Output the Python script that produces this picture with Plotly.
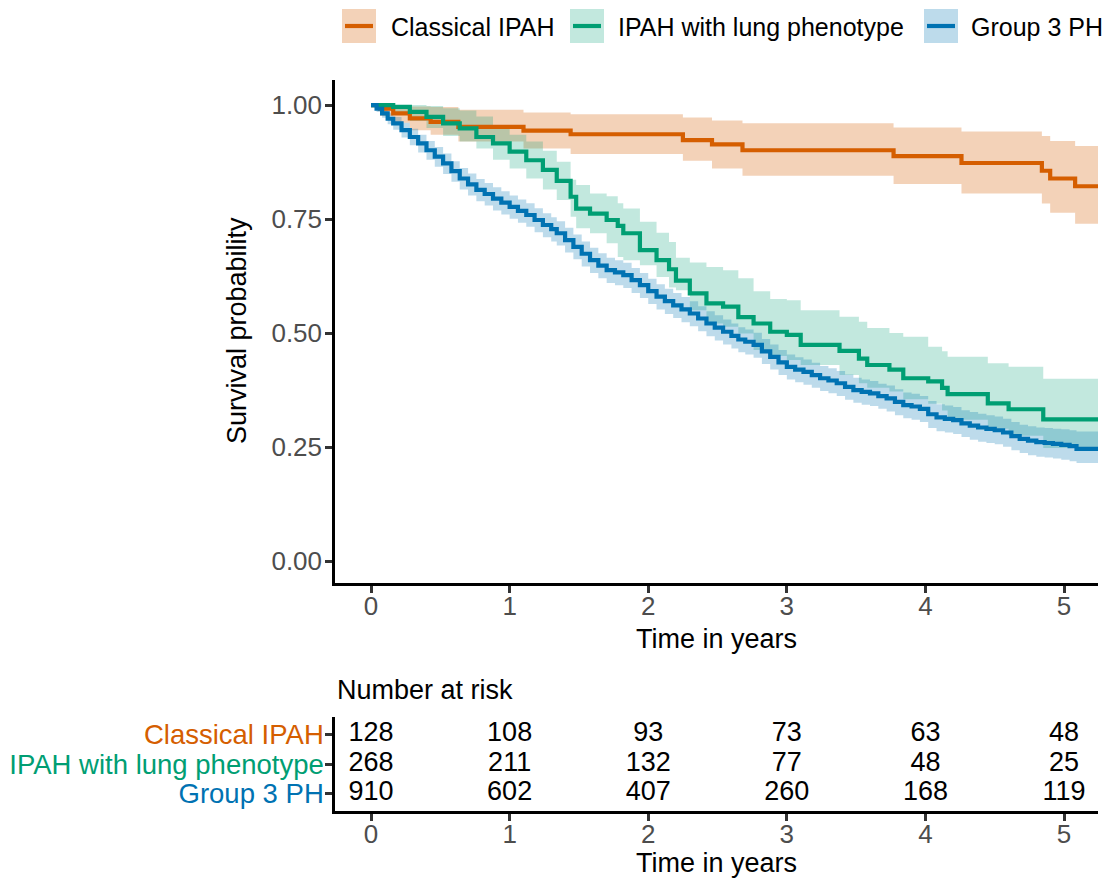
import plotly.graph_objects as go

W, H = 1112, 882

# ---------------- data ----------------
groups = ["Classical IPAH", "IPAH with lung phenotype", "Group 3 PH"]
colors = ["#D55E00", "#009E73", "#0072B2"]
band_colors = ["rgba(213,94,0,0.28)", "rgba(0,158,115,0.24)", "rgba(0,114,178,0.26)"]

# Classical IPAH
t_classical = [0, 0.065, 0.16, 0.28, 0.43, 0.63, 1.10, 1.44, 2.25, 2.46, 2.68, 3.77, 4.26, 4.84, 4.90, 5.08, 5.245]
s_classical = [1.0, 0.992, 0.982, 0.971, 0.963, 0.952, 0.944, 0.936, 0.923, 0.914, 0.901, 0.888, 0.873, 0.856, 0.839, 0.822, 0.822]
up_classical = [1.0, 1.0, 0.999, 0.997, 0.996, 0.990, 0.984, 0.980, 0.973, 0.966, 0.960, 0.951, 0.942, 0.932, 0.921, 0.910, 0.910]
lo_classical = [1.0, 0.976, 0.961, 0.945, 0.935, 0.920, 0.905, 0.893, 0.878, 0.861, 0.845, 0.827, 0.806, 0.784, 0.764, 0.740, 0.740]

# IPAH with lung phenotype
t_lung = [0, 0.16, 0.28, 0.40, 0.52, 0.64, 0.76, 0.88, 1.00, 1.12, 1.24, 1.34, 1.44, 1.48, 1.58, 1.70,
          1.78, 1.82, 1.94, 2.06, 2.15, 2.20, 2.30, 2.42, 2.54, 2.65, 2.76, 2.88, 3.00, 3.10, 3.38, 3.52,
          3.58, 3.74, 3.84, 4.02, 4.12, 4.16, 4.45, 4.60, 4.85, 5.245]
s_lung = [1.0, 0.996, 0.985, 0.974, 0.960, 0.949, 0.930, 0.916, 0.898, 0.879, 0.858, 0.834, 0.799, 0.773, 0.762, 0.748,
          0.735, 0.719, 0.682, 0.660, 0.640, 0.615, 0.587, 0.565, 0.558, 0.535, 0.521, 0.503, 0.496, 0.474, 0.461, 0.444,
          0.430, 0.420, 0.401, 0.394, 0.380, 0.366, 0.346, 0.333, 0.311, 0.311]
up_lung = [1.0, 1.0, 1.0, 0.998, 0.993, 0.988, 0.975, 0.955, 0.935, 0.920, 0.900, 0.876, 0.836, 0.825, 0.806, 0.800,
           0.785, 0.773, 0.744, 0.720, 0.700, 0.665, 0.655, 0.645, 0.638, 0.620, 0.592, 0.575, 0.572, 0.550, 0.536, 0.525,
           0.511, 0.500, 0.492, 0.470, 0.460, 0.448, 0.434, 0.426, 0.400, 0.400]
lo_lung = [1.0, 0.985, 0.965, 0.950, 0.932, 0.920, 0.905, 0.880, 0.861, 0.839, 0.815, 0.792, 0.755, 0.730, 0.719, 0.697,
           0.667, 0.660, 0.649, 0.623, 0.600, 0.594, 0.550, 0.521, 0.514, 0.499, 0.463, 0.450, 0.441, 0.430, 0.408, 0.390,
           0.380, 0.372, 0.355, 0.345, 0.330, 0.310, 0.290, 0.275, 0.248, 0.248]

# Group 3 PH
t_g3 = [0.00, 0.04, 0.08, 0.12, 0.16, 0.22, 0.28, 0.34, 0.40, 0.46, 0.52, 0.58, 0.64, 0.70, 0.76, 0.82, 0.88, 0.94,
        1.00, 1.06, 1.12, 1.18, 1.24, 1.30, 1.34, 1.40, 1.46, 1.52, 1.58, 1.64, 1.70, 1.76, 1.82, 1.88, 1.94, 2.00,
        2.06, 2.12, 2.18, 2.24, 2.30, 2.36, 2.42, 2.48, 2.54, 2.60, 2.65, 2.70, 2.76, 2.82, 2.88, 2.94, 3.00, 3.06,
        3.12, 3.18, 3.24, 3.30, 3.36, 3.42, 3.48, 3.54, 3.60, 3.66, 3.72, 3.78, 3.84, 3.90, 3.96, 4.02, 4.08, 4.14,
        4.20, 4.26, 4.32, 4.38, 4.44, 4.50, 4.56, 4.62, 4.68, 4.74, 4.80, 4.86, 4.92, 4.98, 5.04, 5.09, 5.245]
s_g3 = [1.000, 0.992, 0.982, 0.970, 0.960, 0.945, 0.930, 0.916, 0.901, 0.887, 0.872, 0.855, 0.839, 0.826, 0.814, 0.805, 0.795, 0.786,
        0.777, 0.768, 0.759, 0.748, 0.737, 0.728, 0.719, 0.704, 0.689, 0.674, 0.660, 0.648, 0.638, 0.633, 0.627, 0.616, 0.605, 0.592,
        0.580, 0.570, 0.561, 0.552, 0.543, 0.532, 0.521, 0.512, 0.503, 0.494, 0.486, 0.481, 0.474, 0.460, 0.448, 0.436, 0.426, 0.420,
        0.415, 0.408, 0.401, 0.396, 0.390, 0.382, 0.375, 0.371, 0.368, 0.362, 0.357, 0.349, 0.342, 0.339, 0.334, 0.322, 0.315, 0.312,
        0.309, 0.302, 0.297, 0.293, 0.290, 0.287, 0.282, 0.274, 0.268, 0.264, 0.261, 0.259, 0.257, 0.255, 0.252, 0.246, 0.246]
up_g3 = [1.000, 0.998, 0.992, 0.982, 0.974, 0.961, 0.948, 0.935, 0.921, 0.908, 0.894, 0.877, 0.862, 0.850, 0.838, 0.829, 0.820, 0.811,
         0.802, 0.793, 0.785, 0.774, 0.763, 0.754, 0.745, 0.731, 0.716, 0.701, 0.687, 0.675, 0.665, 0.660, 0.654, 0.643, 0.632, 0.619,
         0.607, 0.597, 0.588, 0.579, 0.570, 0.559, 0.548, 0.539, 0.530, 0.521, 0.513, 0.508, 0.501, 0.487, 0.475, 0.463, 0.453, 0.447,
         0.442, 0.435, 0.428, 0.423, 0.417, 0.409, 0.402, 0.398, 0.395, 0.389, 0.385, 0.377, 0.370, 0.367, 0.362, 0.351, 0.344, 0.341,
         0.338, 0.331, 0.327, 0.323, 0.320, 0.317, 0.312, 0.305, 0.299, 0.296, 0.293, 0.292, 0.290, 0.289, 0.287, 0.284, 0.284]
lo_g3 = [1.000, 0.985, 0.972, 0.958, 0.946, 0.929, 0.912, 0.896, 0.880, 0.865, 0.849, 0.832, 0.815, 0.802, 0.789, 0.780, 0.769, 0.760,
         0.751, 0.742, 0.733, 0.721, 0.710, 0.701, 0.692, 0.677, 0.662, 0.646, 0.632, 0.620, 0.610, 0.605, 0.599, 0.588, 0.577, 0.564,
         0.552, 0.542, 0.533, 0.524, 0.515, 0.504, 0.493, 0.484, 0.475, 0.466, 0.458, 0.453, 0.446, 0.432, 0.420, 0.408, 0.398, 0.392,
         0.387, 0.380, 0.373, 0.368, 0.362, 0.354, 0.347, 0.343, 0.340, 0.334, 0.328, 0.320, 0.313, 0.310, 0.305, 0.292, 0.285, 0.282,
         0.279, 0.272, 0.266, 0.262, 0.259, 0.256, 0.251, 0.243, 0.237, 0.232, 0.229, 0.227, 0.225, 0.222, 0.219, 0.215, 0.215]

# Number at risk table
risk_times = [0, 1, 2, 3, 4, 5]
risk_classical = [128, 108, 93, 73, 63, 48]
risk_lung = [268, 211, 132, 77, 48, 25]
risk_g3 = [910, 602, 407, 260, 168, 119]

y_ticks = [0.0, 0.25, 0.5, 0.75, 1.0]
y_ticklabels = ["0.00", "0.25", "0.50", "0.75", "1.00"]
x_ticks = [0, 1, 2, 3, 4, 5]

# ---------------- helpers ----------------
def fx(px):
    return px / W

def fy(px):
    return 1 - px / H

FONT = "Liberation Sans, Arial, sans-serif"
TICK_GRAY = "#4D4D4D"
LW = 4.2

fig = go.Figure()

series = [
    (t_classical, s_classical, up_classical, lo_classical),
    (t_lung, s_lung, up_lung, lo_lung),
    (t_g3, s_g3, up_g3, lo_g3),
]

# confidence bands
for (t, s, up, lo), bc, name in zip(series, band_colors, groups):
    fig.add_trace(go.Scatter(x=t, y=lo, mode="lines", line=dict(width=0, shape="hv"),
                             showlegend=False, hoverinfo="skip"))
    fig.add_trace(go.Scatter(x=t, y=up, mode="lines", line=dict(width=0, shape="hv"),
                             fill="tonexty", fillcolor=bc, showlegend=False, hoverinfo="skip"))

# survival curves
for (t, s, up, lo), c, name in zip(series, colors, groups):
    fig.add_trace(go.Scatter(x=t, y=s, mode="lines", name=name,
                             line=dict(color=c, width=LW, shape="hv"), showlegend=False))

# risk table numbers
risk_rows = [risk_classical, risk_lung, risk_g3]
row_pos = [3, 2, 1]
for vals, rp in zip(risk_rows, row_pos):
    fig.add_trace(go.Scatter(x=risk_times, y=[rp] * len(risk_times), mode="text",
                             text=[str(v) for v in vals], textposition="middle center",
                             textfont=dict(family=FONT, size=27, color="black"),
                             xaxis="x2", yaxis="y2", showlegend=False, hoverinfo="skip"))

x_dom = [fx(335), fx(1098)]
axis_common = dict(showline=True, linecolor="black", linewidth=2.5, ticks="outside",
                   ticklen=7, tickwidth=2.5, tickcolor="#333333", showgrid=False, zeroline=False,
                   tickfont=dict(family=FONT, size=26, color=TICK_GRAY))

fig.update_layout(
    width=W, height=H,
    margin=dict(l=0, r=0, t=0, b=0),
    paper_bgcolor="white", plot_bgcolor="white",
    showlegend=False,
    xaxis=dict(domain=x_dom, range=[-0.26, 5.245], tickvals=x_ticks, anchor="y",
               ticklabelstandoff=-9, **axis_common),
    yaxis=dict(domain=[fy(583), fy(80)], range=[-0.048, 1.055], tickvals=y_ticks,
               ticktext=y_ticklabels, anchor="x", ticklabelstandoff=-2, **axis_common),
    xaxis2=dict(domain=x_dom, range=[-0.26, 5.245], tickvals=x_ticks, anchor="y2",
                ticklabelstandoff=-9, **axis_common),
    yaxis2=dict(domain=[fy(811), fy(717)], range=[0.4, 3.6], tickvals=row_pos, anchor="x2",
                ticktext=[f'<span style="color:{c}">{g}</span>' for g, c in zip(groups, colors)],
                ticklabelstandoff=-4,
                **{**axis_common, "tickfont": dict(family=FONT, size=27.5)}),
)

# axis titles and table title as annotations
ann = [
    dict(text="Survival probability", x=fx(237), y=fy(331), textangle=-90, size=27),
    dict(text="Time in years", x=fx(716.5), y=fy(639), textangle=0, size=27),
    dict(text="Time in years", x=fx(716.5), y=fy(863), textangle=0, size=27),
]
for a in ann:
    fig.add_annotation(text=a["text"], x=a["x"], y=a["y"], xref="paper", yref="paper",
                       xanchor="center", yanchor="middle", textangle=a["textangle"], showarrow=False,
                       font=dict(family=FONT, size=a["size"], color="black"))
fig.add_annotation(text="Number at risk", x=fx(335), y=fy(690), xref="paper", yref="paper",
                   xanchor="left", yanchor="middle", showarrow=False,
                   font=dict(family=FONT, size=27, color="black"))

# legend (top) drawn with shapes + text
leg_keys = [342, 570, 924]
leg_text_x = [389, 616, 969]
for kx, tx, g, c, bc in zip(leg_keys, leg_text_x, groups, colors, band_colors):
    fig.add_shape(type="rect", xref="paper", yref="paper", x0=fx(kx), x1=fx(kx + 34),
                  y0=fy(43), y1=fy(9), fillcolor=bc, line=dict(width=0))
    fig.add_shape(type="line", xref="paper", yref="paper", x0=fx(kx + 3), x1=fx(kx + 31),
                  y0=fy(26), y1=fy(26), line=dict(color=c, width=LW))
    fig.add_annotation(text=g, x=fx(tx), y=fy(27), xref="paper", yref="paper",
                       xanchor="left", yanchor="middle", showarrow=False,
                       font=dict(family=FONT, size=25, color="black"))

fig.write_html("out.html")
